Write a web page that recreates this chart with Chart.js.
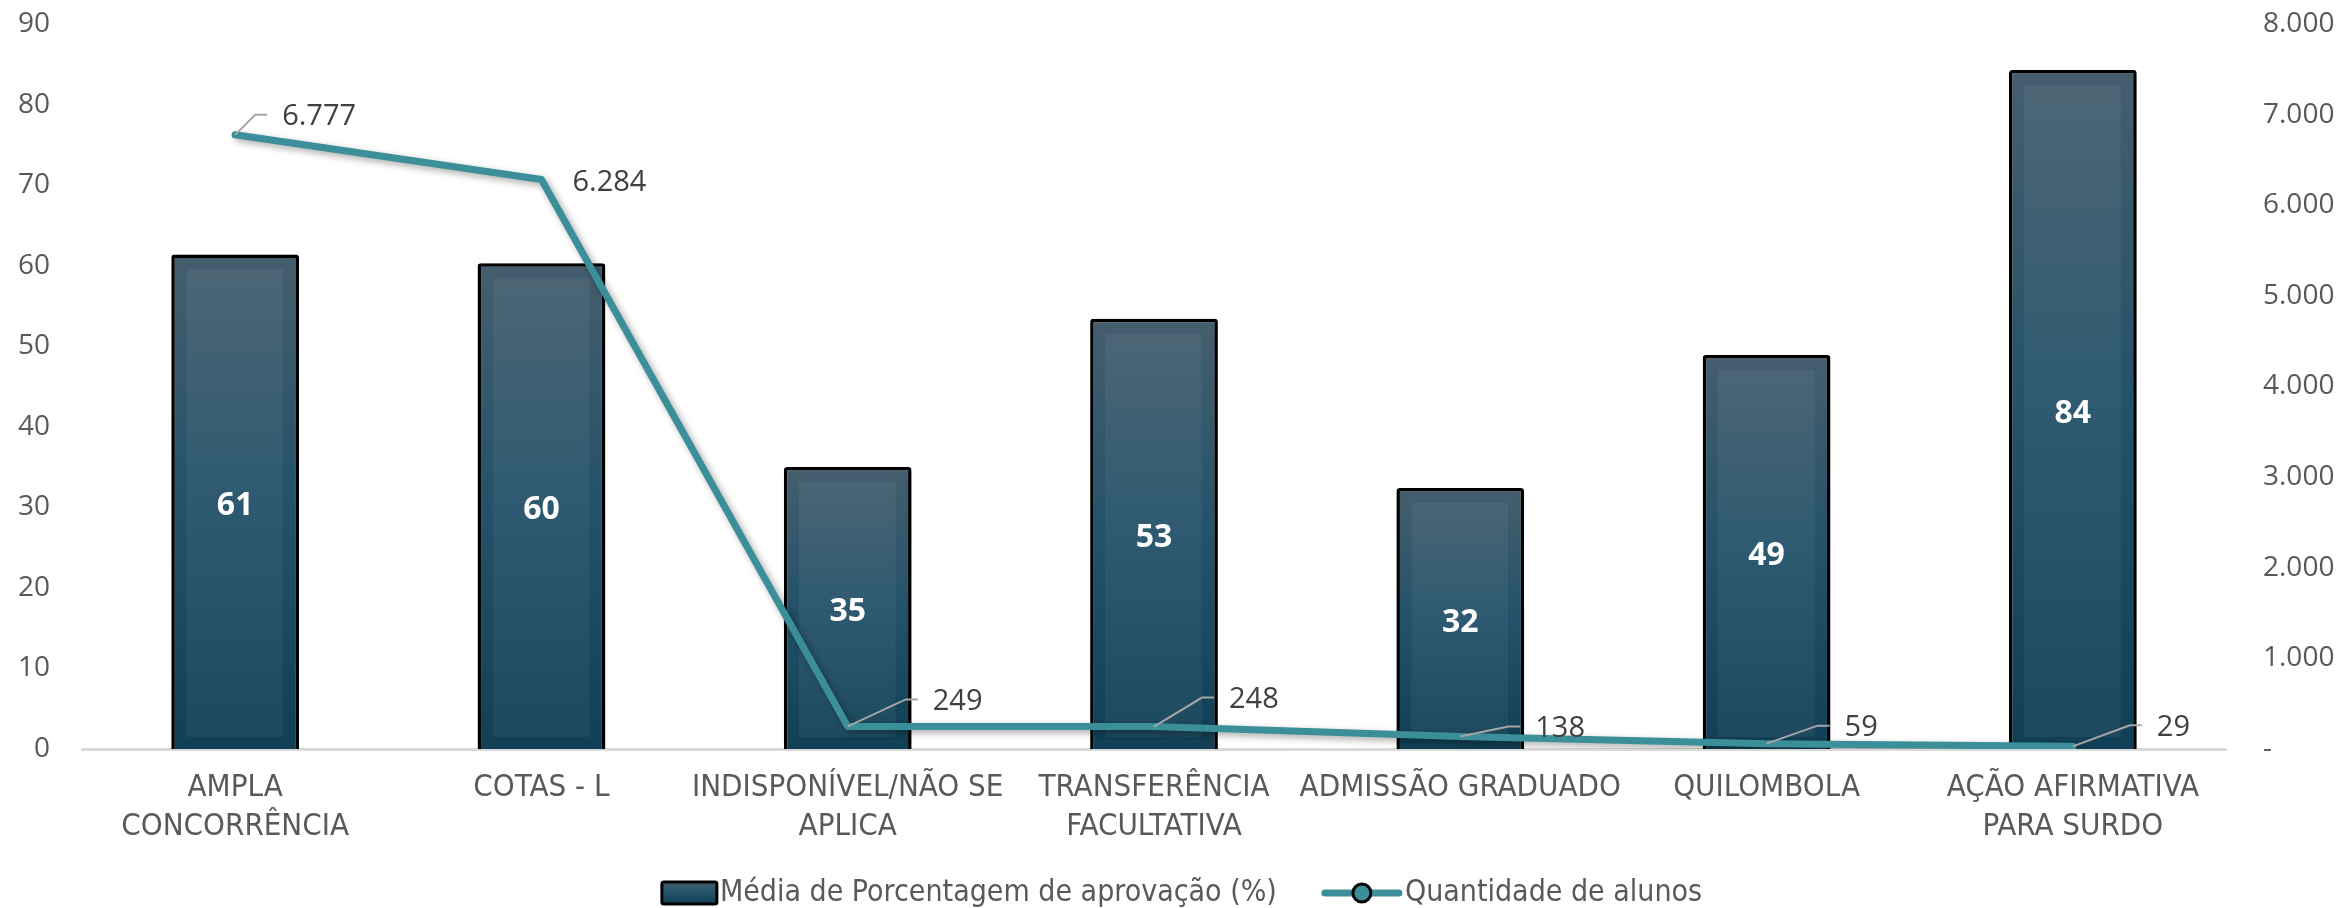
<!DOCTYPE html>
<html>
<head>
<meta charset="utf-8">
<script src="https://cdn.jsdelivr.net/npm/chart.js@4.4.1/dist/chart.umd.min.js"></script>
<style>
  html, body { margin: 0; padding: 0; background: #fff; }
  #wrap { width: 2343px; height: 908px; }
</style>
</head>
<body>
<div id="wrap"><canvas id="chart" width="2343" height="908"></canvas></div>
<script>
// categories and values
const categories = [
  ['AMPLA', 'CONCORRÊNCIA'],
  'COTAS - L',
  ['INDISPONÍVEL/NÃO SE', 'APLICA'],
  ['TRANSFERÊNCIA', 'FACULTATIVA'],
  'ADMISSÃO GRADUADO',
  'QUILOMBOLA',
  ['AÇÃO AFIRMATIVA', 'PARA SURDO']
];
const aprovacao = [61.4, 60.3, 35.0, 53.4, 32.4, 48.9, 84.3];
const alunos = [6777, 6284, 249, 248, 138, 59, 29];
const leftTicks = [0, 10, 20, 30, 40, 50, 60, 70, 80, 90];
const rightTicks = [0, 1000, 2000, 3000, 4000, 5000, 6000, 7000, 8000];

const barLabel = 'Média de Porcentagem de aprovação (%)';
const lineLabel = 'Quantidade de alunos';

// where each line label sits relative to its point (dx to text start, dy)
const lineLabelOffsets = [[47, -18], [31, 3], [85, -25], [75, -27], [75, -8], [78, -16], [84, -19]];

const teal = '#3A8F98';
const grey = '#595959';
const tickFont = { family: "'Open Sans', sans-serif", size: 28 };
const narrowFont = "'Liberation Sans Narrow', 'DejaVu Sans Condensed', sans-serif";

function fmt(v) {
  return String(Math.round(v)).replace(/\B(?=(\d{3})+(?!\d))/g, '.');
}

function barGradient(ctx, top, bottom) {
  const g = ctx.createLinearGradient(0, top, 0, bottom);
  g.addColorStop(0, '#455e6d');
  g.addColorStop(0.5, '#23526a');
  g.addColorStop(1, '#113f55');
  return g;
}

// keep the plot top where the reference has it (tick padding would push it down)
function fitY(width) {
  return scale => {
    scale.width = width;
    scale.paddingTop = 0;
    scale.paddingBottom = 0;
  };
}

const shadowPlugin = {
  id: 'shadow',
  beforeDatasetDraw(chart) {
    const c = chart.ctx;
    c.save();
    c.shadowColor = 'rgba(0,0,0,0.35)';
    c.shadowBlur = 7;
    c.shadowOffsetX = 3;
    c.shadowOffsetY = 3;
  },
  afterDatasetDraw(chart, args) {
    chart.ctx.restore();
    if (args.index !== 0) return;
    // lighter inset panel on each bar
    const c = chart.ctx;
    c.save();
    c.fillStyle = 'rgba(255,255,255,0.05)';
    args.meta.data.forEach(bar => {
      const left = bar.x - bar.width / 2 + 15;
      const w = bar.width - 31;
      const top = bar.y + 15;
      const h = bar.base - 12 - top;
      if (h > 0) c.fillRect(left, top, w, h);
    });
    c.restore();
  }
};

const labelPlugin = {
  id: 'labels',
  afterDatasetsDraw(chart) {
    const c = chart.ctx;
    c.save();
    // bar values
    const bars = chart.getDatasetMeta(0).data;
    c.font = "bold 32px 'Open Sans', sans-serif";
    c.fillStyle = '#ffffff';
    c.textAlign = 'center';
    c.textBaseline = 'middle';
    bars.forEach((bar, i) => {
      c.fillText(Math.round(aprovacao[i]), bar.x, (bar.y + bar.base) / 2 + 4);
    });
    // line values with leader lines
    const pts = chart.getDatasetMeta(1).data;
    c.font = "29px 'Open Sans', sans-serif";
    c.textAlign = 'left';
    pts.forEach((p, i) => {
      const [dx, dy] = lineLabelOffsets[i];
      const lx = p.x + dx;
      const ly = p.y + dy;
      if (dx > 40) {
        c.strokeStyle = '#a6a6a6';
        c.lineWidth = 2;
        c.beginPath();
        c.moveTo(p.x, p.y);
        c.lineTo(lx - 27, ly - 2);
        c.lineTo(lx - 15, ly - 2);
        c.stroke();
      }
      c.fillStyle = '#404040';
      c.fillText(fmt(alunos[i]), lx, ly);
    });
    c.restore();
  }
};

const legendPlugin = {
  id: 'bottomLegend',
  afterDraw(chart) {
    const c = chart.ctx;
    c.save();
    c.font = '30px ' + narrowFont;
    const w1 = c.measureText(barLabel).width;
    const w2 = c.measureText(lineLabel).width;
    const total = 58 + w1 + 45 + 83 + w2;
    let x = 1182 - total / 2;
    const y = 893;
    // bar marker
    c.fillStyle = barGradient(c, y - 11, y + 11);
    c.strokeStyle = '#000';
    c.lineWidth = 3;
    c.beginPath();
    c.roundRect(x, y - 11, 55, 22, 2);
    c.fill();
    c.stroke();
    x += 58;
    c.fillStyle = grey;
    c.textAlign = 'left';
    c.textBaseline = 'middle';
    c.fillText(barLabel, x, y);
    x += w1 + 45;
    // line marker
    c.strokeStyle = teal;
    c.lineWidth = 7;
    c.lineCap = 'round';
    c.beginPath();
    c.moveTo(x + 3, y);
    c.lineTo(x + 77, y);
    c.stroke();
    c.fillStyle = teal;
    c.strokeStyle = '#000';
    c.lineWidth = 3;
    c.beginPath();
    c.arc(x + 40, y, 9, 0, Math.PI * 2);
    c.fill();
    c.stroke();
    x += 83;
    c.fillStyle = grey;
    c.fillText(lineLabel, x, y);
    c.restore();
  }
};

const ctx = document.getElementById('chart').getContext('2d');

new Chart(ctx, {
  data: {
    labels: categories,
    datasets: [
      {
        type: 'bar',
        label: barLabel,
        data: aprovacao,
        yAxisID: 'y',
        order: 1,
        backgroundColor(context) {
          const chart = context.chart;
          if (!chart.chartArea) return '#1d4d63';
          const sc = chart.scales.y;
          const v = context.raw ?? 0;
          return barGradient(chart.ctx, sc.getPixelForValue(v), sc.getPixelForValue(0));
        },
        borderColor: '#000000',
        borderWidth: 3.5,
        borderRadius: 3,
        borderSkipped: 'bottom',
        categoryPercentage: 1,
        barPercentage: 0.417
      },
      {
        type: 'line',
        label: lineLabel,
        data: alunos,
        yAxisID: 'y1',
        order: 0,
        borderColor: teal,
        borderWidth: 7,
        borderJoinStyle: 'round',
        borderCapStyle: 'round',
        pointRadius: 0,
        tension: 0,
        fill: false
      }
    ]
  },
  options: {
    responsive: false,
    animation: false,
    layout: { padding: { top: 24, left: 0, right: 0, bottom: 0 } },
    plugins: {
      legend: { display: false },
      tooltip: { enabled: false }
    },
    scales: {
      x: {
        offset: true,
        grid: { display: false, drawTicks: false },
        border: { display: true, color: '#d9d9d9', width: 3 },
        ticks: {
          color: grey,
          font: { family: narrowFont, size: 31, lineHeight: 1.25 },
          padding: 20,
          maxRotation: 0,
          autoSkip: false
        },
        afterFit(scale) { scale.height = 159; }
      },
      y: {
        position: 'left',
        min: leftTicks[0],
        max: leftTicks[leftTicks.length - 1],
        grid: { display: false, drawTicks: false },
        border: { display: false },
        afterBuildTicks(scale) { scale.ticks = leftTicks.map(v => ({ value: v })); },
        ticks: { color: grey, font: tickFont, padding: 32 },
        afterFit: fitY(82)
      },
      y1: {
        position: 'right',
        min: rightTicks[0],
        max: rightTicks[rightTicks.length - 1],
        grid: { display: false, drawTicks: false },
        border: { display: false },
        afterBuildTicks(scale) { scale.ticks = rightTicks.map(v => ({ value: v })); },
        ticks: {
          color: grey,
          font: tickFont,
          padding: 37,
          callback: v => (v === 0 ? '-' : fmt(v))
        },
        afterFit: fitY(117)
      }
    }
  },
  plugins: [shadowPlugin, labelPlugin, legendPlugin]
});
</script>
</body>
</html>
